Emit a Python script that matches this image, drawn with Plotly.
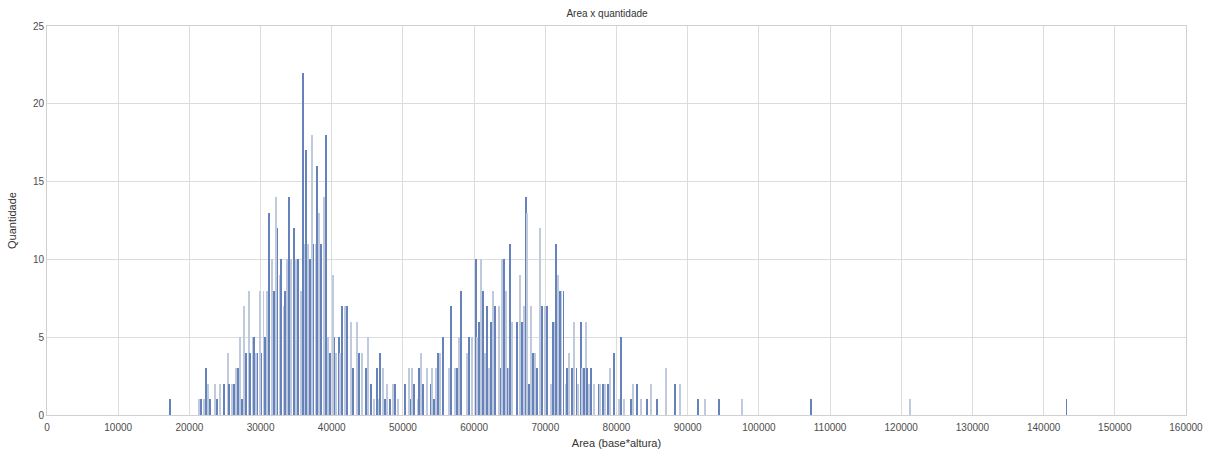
import plotly.graph_objects as go

# Bin centres (area = base*altura) and counts
area = [
    17311, 21383, 21617, 22085, 22365, 22646, 22927, 23629, 23863, 24331,
    24893, 25361, 25548, 26016, 26297, 26577, 26858, 27139, 27420, 27700,
    27934, 28355, 28543, 28917, 29105, 29385, 29573, 29947, 30134, 30415,
    30649, 30883, 31164, 31632, 31913, 32147, 32381, 32661, 32895, 33223,
    33457, 33691, 33972, 34253, 34721, 35001, 35282, 35657, 35984, 36219,
    36406, 36686, 36967, 37201, 37435, 37716, 37950, 38231, 38465, 38933,
    39213, 39494, 39775, 40149, 40383, 40617, 40992, 41179, 41460, 41928,
    42209, 42770, 43051, 43519, 43800, 44268, 44829, 45110, 45578, 45953,
    46327, 46608,
    46795, 47263, 47544, 47825, 48199, 48573, 48854, 49369, 50352, 50820,
    51101, 51334, 51616, 52084, 52318, 52599, 52880, 53347, 53909, 54143,
    54377, 54658, 54939, 55263, 55592, 56436, 56717, 57372, 57653, 57934,
    58215, 58963, 59337, 59712, 60227, 60461, 60741, 61022, 61209, 61583,
    61864, 62147, 62427, 62707, 62975, 63456, 63737, 63905, 64208, 64489,
    64723, 64958, 65021, 65262, 65980, 66451, 66732, 67012, 67231, 67480,
    67761, 68043, 68296, 68558, 68792, 69259, 69556, 69931, 70289, 70758,
    71047, 71290, 71477, 71781, 72031, 72273, 72553, 72862, 73033, 73294,
    73755, 74030, 74382, 74654, 74949, 75192, 75387, 75653, 75817, 76074,
    76355, 76794, 77496,
    77684, 78058, 78339, 78807, 79088, 79650, 80305, 80586, 81054, 82083,
    82364, 82832, 83394, 84330, 84798, 85640, 86904, 88167, 88916, 91443,
    92473, 94438, 97574, 107330, 121210, 143210,
]
quantidade = [
    1, 1, 1, 1, 3, 2, 1, 2, 1, 2,
    2, 4, 2, 2, 2, 3, 3, 5, 1, 7,
    4, 8, 4, 5, 5, 4, 4, 8, 4, 8,
    5, 8, 13, 10, 8, 14, 12, 9, 10, 7,
    8, 10, 14, 10, 12, 10, 10, 8, 22, 11,
    17, 11, 10, 18, 11, 11, 16, 13, 11, 14,
    18, 5, 4, 9, 5, 4, 5, 4, 7, 7,
    7, 6, 3, 6, 4, 4, 3, 5, 2, 1,
    3, 1,
    4, 3, 1, 2, 1, 2, 2, 1, 2, 3,
    1, 3, 2, 1, 3, 4, 2, 3, 2, 3,
    1, 3, 4, 4, 5, 3, 7, 3, 3, 5,
    8, 4, 5, 5, 10, 5, 6, 10, 8, 4,
    7, 3, 6, 8, 7, 7, 3, 10, 10, 8,
    3, 3, 11, 6, 6, 9, 6, 7, 14, 13,
    2, 7, 4, 4, 3, 12, 7, 7, 7, 2,
    6, 6, 11, 9, 8, 8, 8, 2, 3, 4,
    3, 6, 3, 2, 6, 3, 3, 6, 3, 2,
    3, 2, 2, 2, 2, 2, 2,
    3, 4, 1, 5, 1, 1, 2, 2, 1, 1,
    2, 1, 3, 2, 2, 1, 1, 1, 1, 1,
    1, 1, 1, 1, 1, 1,
]

x_ticks = list(range(0, 160001, 10000))
y_ticks = [0, 5, 10, 15, 20, 25]

colors = ["#6682bb" if i % 2 == 0 else "#bfcadf" for i in range(len(area))]

fig = go.Figure(
    go.Bar(
        x=area,
        y=quantidade,
        width=135,
        marker=dict(color=colors, line=dict(width=0)),
    )
)

font_family = "Liberation Sans, Arial, sans-serif"
fig.update_layout(
    width=1214,
    height=453,
    paper_bgcolor="white",
    plot_bgcolor="white",
    margin=dict(l=47, r=28, t=26, b=38),
    title=dict(
        text="Area x quantidade",
        x=0.5,
        xanchor="center",
        y=0.97,
        yanchor="middle",
        font=dict(family=font_family, size=10, color="#333333"),
    ),
    font=dict(family=font_family, size=10, color="#4d4d4d"),
    showlegend=False,
    bargap=0,
)
fig.update_xaxes(
    range=[0, 160000],
    tickvals=x_ticks,
    ticktext=[str(v) for v in x_ticks],
    showgrid=True,
    gridcolor="#dcdcdc",
    gridwidth=1,
    showline=True,
    linecolor="#d0d0d0",
    linewidth=1,
    mirror=True,
    zeroline=False,
    ticks="",
    ticklabelstandoff=3,
    automargin=False,
    tickfont=dict(size=10, color="#4d4d4d"),
    title=dict(text="Area (base*altura)", standoff=7,
               font=dict(size=11, color="#333333")),
)
fig.update_yaxes(
    range=[0, 25],
    tickvals=y_ticks,
    showgrid=True,
    gridcolor="#dcdcdc",
    gridwidth=1,
    showline=True,
    linecolor="#d0d0d0",
    linewidth=1,
    mirror=True,
    zeroline=False,
    ticks="",
    automargin=False,
    tickfont=dict(size=10, color="#4d4d4d"),
    title=dict(text="Quantidade", standoff=14,
               font=dict(size=11, color="#333333")),
)

fig.write_html(
    "out.html",
    config={"displayModeBar": False},
    post_script="document.body.style.margin='0px';document.body.style.overflow='hidden';",
)
